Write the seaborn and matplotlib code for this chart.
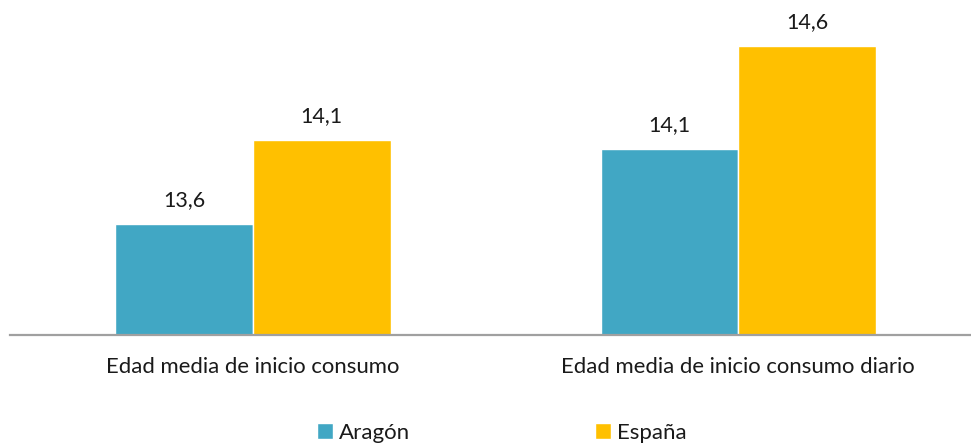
import numpy as np
import matplotlib
matplotlib.use('Agg')
import matplotlib.pyplot as plt
import pandas as pd
import seaborn as sns

# data (bar heights), labels as printed on the chart
categorias = ['Edad media de inicio consumo', 'Edad media de inicio consumo diario']
regiones = ['Aragón', 'España']
aragon = [13.6, 14.02]
espana = [14.07, 14.6]
etiquetas_aragon = ['13,6', '14,1']
etiquetas_espana = ['14,1', '14,6']
colores = ['#41A7C4', '#FFC000']

df = pd.DataFrame({
    'categoria': categorias * 2,
    'region': [regiones[0]] * 2 + [regiones[1]] * 2,
    'edad': aragon + espana,
})

sns.set_style('white')
plt.rcParams['font.family'] = ['Lato', 'DejaVu Sans']

fig = plt.figure(figsize=(9.71, 4.43), dpi=100)
ax = fig.add_axes([10 / 971, 108 / 443, 961 / 971, 335 / 443])

sns.barplot(data=df, x='categoria', y='edad', hue='region', palette=colores,
            width=0.567, saturation=1, ax=ax, legend=True)

ymin = 12.976
ax.set_ylim(ymin, ymin + 335 / 178)
ax.set_xlim(-0.5007, 1.4795)

for cont, etiq in zip(ax.containers, [etiquetas_aragon, etiquetas_espana]):
    ax.bar_label(cont, labels=etiq, padding=10, fontsize=15.5, color='#1a1a1a')

for s in ['left', 'top', 'right']:
    ax.spines[s].set_visible(False)
ax.spines['bottom'].set_color('#A0A0A0')
ax.spines['bottom'].set_linewidth(1.6)
ax.set_yticks([])
ax.set_xlabel('')
ax.set_ylabel('')
ax.tick_params(axis='x', length=0, pad=16, labelsize=15.9, labelcolor='#1a1a1a')

handles, labels = ax.get_legend_handles_labels()
ax.get_legend().remove()
fig.legend(handles, labels, loc='center', bbox_to_anchor=(502 / 971, 1 - 433 / 443),
           ncol=2, frameon=False, fontsize=16, handlelength=0.7, handleheight=0.7,
           handletextpad=0.3, columnspacing=8.3, labelcolor='#1a1a1a')

fig.savefig('out.png', dpi=100)
